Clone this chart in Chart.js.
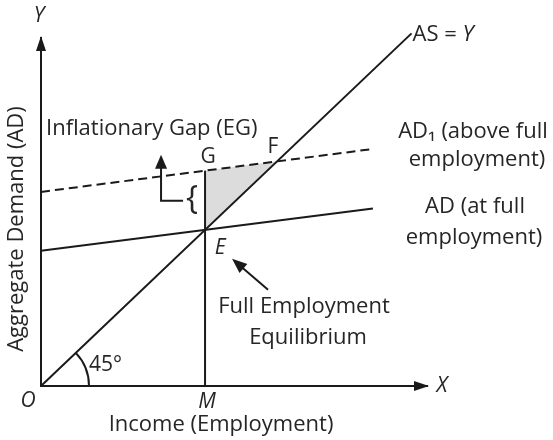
<!DOCTYPE html>
<html>
<head>
<meta charset="utf-8">
<script src="https://cdn.jsdelivr.net/npm/chart.js@4.4.0/dist/chart.umd.min.js"></script>
<style>
  html, body { margin: 0; padding: 0; background: #fff; }
  #wrap { width: 553px; height: 440px; position: relative; }
</style>
</head>
<body>
<div id="wrap"><canvas id="chart"></canvas></div>
<script>
// axis ranges (data units)
const xRange = [0, 100]
const yRange = [0, 90]

// curves, as [x, y] pairs
const asLine = [[0, 0], [96, 91.2]]        // AS = Y (45° line)
const adLine = [[0, 35], [86, 45.9]]       // AD at full employment
const ad1Line = [[0, 50.2], [86, 61.3]]    // AD1 above full employment
const mLine = [[42.5, 0], [42.5, 55.7]]    // from M up to G
const gapArea = [[42.5, 55.7], [61.1, 58.1], [42.5, 40.4], [42.5, 55.7]] // G, F, E

// named points
const pointO = [0, 0]
const pointE = [42.5, 40.4]
const pointG = [42.5, 55.7]
const pointF = [61.1, 58.1]
const pointM = [42.5, 0]

// text
const axisTitleX = "Income (Employment)"
const axisTitleY = "Aggregate Demand (AD)"
const asLabel = ["AS = ", "Y"]
const ad1Label = ["AD\u2081 (above full", "employment)"]
const adLabel = ["AD (at full", "employment)"]
const gapLabel = "Inflationary Gap (EG)"
const eqLabel = ["Full Employment", "Equilibrium"]

const toXY = (arr) => arr.map(([x, y]) => ({ x, y }))

const FONT = "'Open Sans', 'DejaVu Sans', sans-serif"
const INK = "#1a1a1a"
const TEXT = "#262626"

function arrowHead(ctx, tipX, tipY, angle, len, half) {
  ctx.save()
  ctx.translate(tipX, tipY)
  ctx.rotate(angle)
  ctx.beginPath()
  ctx.moveTo(0, 0)
  ctx.lineTo(-len, -half)
  ctx.lineTo(-len, half)
  ctx.closePath()
  ctx.fill()
  ctx.restore()
}

// 注释层: 箭头、角标、文字
const annotate = {
  id: "annotate",
  afterDraw(chart) {
    const { ctx, chartArea, scales } = chart
    const px = (p) => [scales.x.getPixelForValue(p[0]), scales.y.getPixelForValue(p[1])]
    ctx.save()
    ctx.fillStyle = INK
    ctx.strokeStyle = INK
    ctx.lineWidth = 2

    // axis arrows
    arrowHead(ctx, chartArea.left, chartArea.top - 2, -Math.PI / 2, 15, 5)
    arrowHead(ctx, chartArea.right + 2, chartArea.bottom, 0, 15, 5)

    // 45° arc
    const [ox, oy] = px(pointO)
    const [ax, ay] = px(asLine[1])
    const ang = Math.atan2(ay - oy, ax - ox)
    ctx.beginPath()
    ctx.arc(ox, oy, 48, ang, 0)
    ctx.stroke()

    // arrow pointing to E
    const [ex, ey] = px(pointE)
    ctx.beginPath()
    ctx.moveTo(ex + 63, ey + 60)
    ctx.lineTo(ex + 35, ey + 36)
    ctx.stroke()
    arrowHead(ctx, ex + 27, ey + 29, Math.atan2(-31, -36), 15, 6)

    // gap arrow (up then right)
    const [gx, gy] = px(pointG)
    ctx.beginPath()
    ctx.moveTo(gx - 22, gy + 30)
    ctx.lineTo(gx - 44, gy + 30)
    ctx.lineTo(gx - 44, gy - 4)
    ctx.stroke()
    arrowHead(ctx, gx - 44, gy - 16, -Math.PI / 2, 14, 6)

    // brace
    ctx.fillStyle = TEXT
    ctx.font = "32px " + FONT
    ctx.textAlign = "center"
    ctx.textBaseline = "middle"
    ctx.fillText("{", gx - 13, gy + 29)

    // letters on the figure
    ctx.font = "italic 21px " + FONT
    ctx.fillText("Y", chartArea.left - 2, 16)
    ctx.fillText("X", chartArea.right + 15, chartArea.bottom)
    ctx.fillText("O", ox - 13, oy + 15)
    const [mx, my] = px(pointM)
    ctx.fillText("M", mx + 2, my + 16)
    ctx.fillText("E", ex + 15, ey + 18)
    ctx.font = "21px " + FONT
    ctx.fillText("G", gx + 3, gy - 14)
    const [fx, fy] = px(pointF)
    ctx.fillText("F", fx - 4, fy - 14)

    // 45° label
    ctx.textAlign = "left"
    ctx.fillText("45°", ox + 48, oy - 21)

    // labels
    ctx.font = "22px " + FONT
    ctx.textAlign = "left"
    ctx.fillText(asLabel[0], ax + 1, ay + 1)
    const asW = ctx.measureText(asLabel[0]).width
    ctx.font = "italic 22px " + FONT
    ctx.fillText(asLabel[1], ax + 1 + asW, ay + 1)
    ctx.font = "22px " + FONT
    ctx.fillText(gapLabel, 46, 129)
    ctx.textAlign = "center"
    ctx.fillText(ad1Label[0], 473, 132)
    ctx.fillText(ad1Label[1], 477, 160)
    ctx.fillText(adLabel[0], 475, 207)
    ctx.fillText(adLabel[1], 474, 238)
    ctx.fillText(eqLabel[0], 304, 307)
    ctx.fillText(eqLabel[1], 308, 338)

    // axis titles
    ctx.fillText(axisTitleX, 221, 425)
    ctx.translate(17, 229)
    ctx.rotate(-Math.PI / 2)
    ctx.fillText(axisTitleY, 0, 0)
    ctx.restore()
  }
}

const line = (data, extra) => Object.assign({
  data: toXY(data),
  showLine: true,
  borderColor: INK,
  borderWidth: 2,
  pointRadius: 0,
  fill: false,
  clip: false
}, extra || {})

const axis = (range) => ({
  type: "linear",
  min: range[0],
  max: range[1],
  grid: { display: false, drawTicks: false },
  ticks: { display: false },
  border: { display: true, color: INK, width: 2 }
})

new Chart(document.getElementById("chart"), {
  type: "scatter",
  data: {
    datasets: [
      line(asLine),
      line(adLine),
      line(ad1Line, { borderDash: [9, 5] }),
      line(mLine),
      line(gapArea, { borderWidth: 0, backgroundColor: "#dcdcdc", fill: "shape" })
    ]
  },
  options: {
    responsive: true,
    maintainAspectRatio: false,
    animation: false,
    events: [],
    layout: { autoPadding: false, padding: { left: 41, top: 38, right: 126, bottom: 54 } },
    plugins: { legend: { display: false }, tooltip: { enabled: false } },
    scales: { x: axis(xRange), y: axis(yRange) }
  },
  plugins: [annotate]
})
</script>
</body>
</html>
